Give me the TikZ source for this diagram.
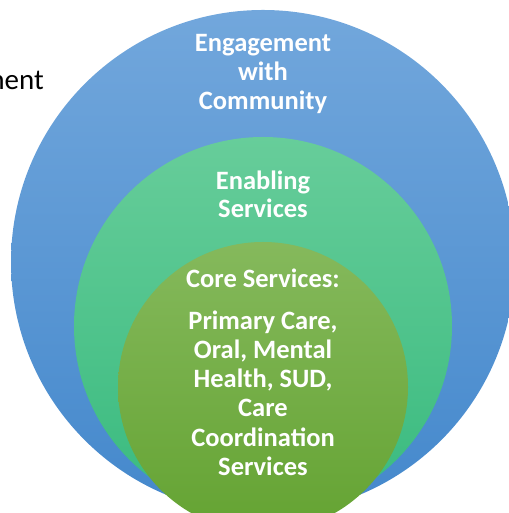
\documentclass[tikz,border=0pt]{standalone}
\usepackage{fontspec}
\setmainfont{Carlito}
\definecolor{blueT}{HTML}{72A7DC}
\definecolor{blueB}{HTML}{4488CC}
\definecolor{greenT}{HTML}{67CD9A}
\definecolor{greenB}{HTML}{38BA7E}
\definecolor{oliveT}{HTML}{85B95C}
\definecolor{oliveB}{HTML}{64A332}
\tikzset{
  lbl/.style={anchor=base, text=white, font=\fontsize{26.5}{30}\selectfont\bfseries, inner sep=0pt},
}
\begin{document}
\begin{tikzpicture}[x=1pt,y=1pt]
\useasboundingbox (0,0) rectangle (508,513);
\node[anchor=base east, inner sep=0pt, font=\fontsize{29}{32}\selectfont] (side) at (44,423) {ment};
\shade[top color=blueT, bottom color=blueB] (263,251) circle [radius=252pt];
\shade[top color=greenT, bottom color=greenB] (263,187) circle [radius=189pt];
\shade[top color=oliveT, bottom color=oliveB] (263,126) circle [radius=145pt];
\node[lbl] (e1) at (263,461) {Engagement};
\node[lbl] (e2) at (263,432) {with};
\node[lbl] (e3) at (263,403) {Community};
\node[lbl] (n1) at (263,323) {Enabling};
\node[lbl] (n2) at (263,295) {Services};
\node[lbl] (c0) at (263,225) {Core Services:};
\node[lbl] (c1) at (263,183) {Primary Care,};
\node[lbl] (c2) at (263,154) {Oral, Mental};
\node[lbl] (c3) at (263,125) {Health, SUD,};
\node[lbl] (c4) at (263,96) {Care};
\node[lbl] (c5) at (263,66) {Coordination};
\node[lbl] (c6) at (263,37) {Services};
\end{tikzpicture}
\end{document}
